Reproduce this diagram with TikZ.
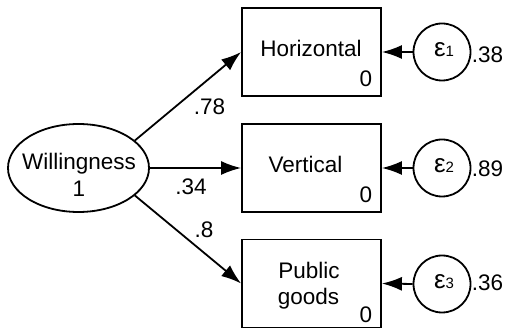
\documentclass[tikz,border=0pt]{standalone}
\usepackage{fontspec}
\setmainfont{Liberation Sans}
\usetikzlibrary{arrows.meta,shapes.geometric}
\begin{document}
\begin{tikzpicture}[x=1pt,y=-1pt, line width=1.8pt,
  box/.style={draw, rectangle, minimum width=139pt, minimum height=88pt, inner sep=0pt},
  err/.style={draw, circle, minimum size=57pt, inner sep=0pt},
  lat/.style={draw, ellipse, minimum width=141pt, minimum height=88pt, inner sep=0pt},
  txt/.style={font=\fontsize{22.5}{27}\selectfont, inner sep=0pt, anchor=base},
  etxt/.style={font=\fontsize{26}{30}\selectfont, inner sep=0pt, anchor=base},
  arr/.style={-{Latex[length=20pt,width=14pt]}},
]
\useasboundingbox (0,0) rectangle (511,328);
\node[lat] (w) at (78.5,168) {};
\node[box] (h) at (311.5,52) {};
\node[box] (v) at (311.5,168) {};
\node[box] (p) at (311.5,283.5) {};
\node[err] (e1) at (442,52) {};
\node[err] (e2) at (442,168) {};
\node[err] (e3) at (442,284) {};
% texts
\node[txt] (wt) at (79,169.3) {Willingness};
\node[txt] (wn) at (79,196.7) {1};
\node[txt] (ht) at (311,56.7) {Horizontal};
\node[txt] (h0) at (366,86.7) {0};
\node[txt] (vt) at (305.5,172.7) {Vertical};
\node[txt] (v0) at (366,202.7) {0};
\node[txt] (pt1) at (309,278.3) {Public};
\node[txt] (pt2) at (308.5,305) {goods};
\node[txt] (p0) at (366,323) {0};
\node[etxt] (et1) at (444,57) {ε{\fontsize{15}{18}\selectfont 1}};
\node[etxt] (et2) at (444,173) {ε{\fontsize{15}{18}\selectfont 2}};
\node[etxt] (et3) at (444,289) {ε{\fontsize{15}{18}\selectfont 3}};
\node[txt, anchor=base west] (l1) at (471,62.5) {.38};
\node[txt, anchor=base west] (l2) at (471,177) {.89};
\node[txt, anchor=base west] (l3) at (471,291) {.36};
\node[txt] (c1) at (209.5,115) {.78};
\node[txt] (c2) at (191,195) {.34};
\node[txt] (c3) at (204,238) {.8};
% connectors
\draw[arr] (w.26) -- (h.west);
\draw[arr] (w.east) -- (v.west);
\draw[arr] (w.-26) -- (p.west);
\draw[arr] (e1.west) -- (h.east);
\draw[arr] (e2.west) -- (v.east);
\draw[arr] (e3.west) -- (p.east);
\end{tikzpicture}
\end{document}
